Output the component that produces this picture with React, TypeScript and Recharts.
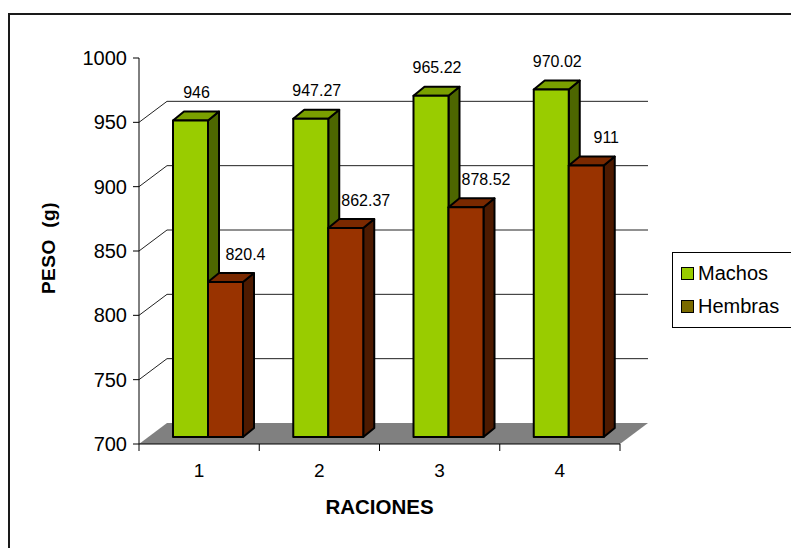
import React from "react";
import { BarChart, Bar, XAxis, YAxis, CartesianGrid, Legend, LabelList } from "recharts";

const RACIONES = ["1", "2", "3", "4"];
const MACHOS = [946, 947.27, 965.22, 970.02];
const HEMBRAS = [820.4, 862.37, 878.52, 911];
const PESO_TICKS = [700, 750, 800, 850, 900, 950, 1000];
const SERIES_ORDER = ["machos", "hembras"];

const data = RACIONES.map((racion, i) => ({
  racion,
  machos: MACHOS[i],
  hembras: HEMBRAS[i],
}));

const W = 791;
const H = 548;
const MARGIN = { top: 58, right: 171, bottom: 0, left: 0 };
const X_AXIS_H = 104;
const Y_AXIS_W = 139;
const PLOT_TOP = MARGIN.top;
const PLOT_BOTTOM = H - MARGIN.bottom - X_AXIS_H;
const PLOT_W = W - MARGIN.right - MARGIN.left - Y_AXIS_W;

// fake 3d: depth of the walls, and where the bars sit inside that depth
const WALL_DX = 28;
const WALL_DY = -21;
const BAR_DX = 9;
const BAR_DY = -7;
const DEPTH_DX = 11;
const DEPTH_DY = -9;

const FONT = '"Liberation Sans", Arial, sans-serif';

const GREEN = { front: "#99cc00", top: "#7aa000", side: "#4d6600" };
const BROWN = { front: "#993300", top: "#7a2900", side: "#4d1a00" };
const SWATCH: Record<string, string> = { machos: "#99cc00", hembras: "#7a6a00" };

const pts = (p: number[][]) => p.map((q) => q.join(",")).join(" ");

// back wall gridlines + side wall diagonals; the bottom line becomes the floor
function WallLine(props: any) {
  const { x1, y1, x2 } = props;
  if (Math.abs(y1 - PLOT_TOP) < 1) return <g key={props.key} />;
  if (Math.abs(y1 - PLOT_BOTTOM) < 1) {
    return (
      <polygon
        key={props.key}
        points={pts([
          [x1, y1],
          [x2, y1],
          [x2 + WALL_DX, y1 + WALL_DY],
          [x1 + WALL_DX, y1 + WALL_DY],
        ])}
        fill="#808080"
      />
    );
  }
  return (
    <g key={props.key} stroke="#222" strokeWidth={1}>
      <line x1={x1} y1={y1} x2={x1 + WALL_DX} y2={y1 + WALL_DY} />
      <line x1={x1 + WALL_DX} y1={y1 + WALL_DY} x2={x2 + WALL_DX} y2={y1 + WALL_DY} />
    </g>
  );
}

function Bar3D(props: any) {
  const { x, y, width, height, colors } = props;
  const fx = x + BAR_DX;
  const fy = y + BAR_DY;
  const bottom = y + height + BAR_DY;
  const r = fx + width;
  return (
    <g stroke="#000" strokeWidth={2} strokeLinejoin="round">
      <polygon
        points={pts([
          [r, fy],
          [r + DEPTH_DX, fy + DEPTH_DY],
          [r + DEPTH_DX, bottom + DEPTH_DY],
          [r, bottom],
        ])}
        fill={colors.side}
      />
      <polygon
        points={pts([
          [fx, fy],
          [r, fy],
          [r + DEPTH_DX, fy + DEPTH_DY],
          [fx + DEPTH_DX, fy + DEPTH_DY],
        ])}
        fill={colors.top}
      />
      <rect x={fx} y={fy} width={width} height={bottom - fy} fill={colors.front} />
    </g>
  );
}

const valueLabel = (shift: number) => (props: any) => {
  const { x, y, width, value } = props;
  return (
    <text
      x={x + BAR_DX + width / 2 + shift}
      y={y + BAR_DY - 28}
      textAnchor="middle"
      dominantBaseline="central"
      fontSize={16}
      fontFamily={FONT}
      fill="#000"
    >
      {value}
    </text>
  );
};

function YTick(props: any) {
  const { x, y, payload } = props;
  return (
    <text x={x - 4} y={y} textAnchor="end" dominantBaseline="central" fontSize={20} fontFamily={FONT} fill="#000">
      {payload.value}
    </text>
  );
}

// excel puts the category ticks on the band edges, not the centres
function XTick(props: any) {
  const { x, y, payload, index } = props;
  const half = payload.offset > 0 ? payload.offset : PLOT_W / RACIONES.length / 2;
  return (
    <g>
      <line x1={x + half} y1={PLOT_BOTTOM} x2={x + half} y2={PLOT_BOTTOM + 7} stroke="#000" />
      {index === 0 && <line x1={x - half} y1={PLOT_BOTTOM} x2={x - half} y2={PLOT_BOTTOM + 7} stroke="#000" />}
      <text x={x} y={y + 18} textAnchor="middle" dominantBaseline="central" fontSize={19} fontFamily={FONT} fill="#000">
        {payload.value}
      </text>
    </g>
  );
}

function LegendBox(props: any) {
  const items = [...(props.payload || [])].sort(
    (a: any, b: any) => SERIES_ORDER.indexOf(a.dataKey) - SERIES_ORDER.indexOf(b.dataKey)
  );
  return (
    <div
      style={{
        border: "1px solid #000",
        background: "#fff",
        padding: "4px 0 4px 8px",
        fontFamily: FONT,
        fontSize: 20,
        width: 140,
        boxSizing: "border-box",
      }}
    >
      {items.map((entry: any) => (
        <div key={entry.value} style={{ display: "flex", alignItems: "center", height: 33 }}>
          <span
            style={{
              display: "inline-block",
              width: 11,
              height: 11,
              border: "1.5px solid #000",
              background: SWATCH[entry.dataKey],
              marginRight: 4,
            }}
          />
          {entry.value}
        </div>
      ))}
    </div>
  );
}

export default function App() {
  return (
    <div style={{ position: "fixed", left: 0, top: 0, width: W, height: H, overflow: "hidden", background: "#fff" }}>
      <div
        style={{
          position: "absolute",
          left: 8,
          top: 13,
          width: 900,
          height: 700,
          border: "2px solid #1a1a1a",
        }}
      />
      <BarChart width={W} height={H} data={data} margin={MARGIN} barGap={0} style={{ position: "absolute", left: 0, top: 0 }}>
        <CartesianGrid vertical={false} horizontal={WallLine} />
        <XAxis
          dataKey="racion"
          height={X_AXIS_H}
          axisLine={{ stroke: "#000" }}
          tickLine={false}
          tick={<XTick />}
          label={{
            content: ({ viewBox }: any) => (
              <text
                x={viewBox.x + viewBox.width / 2}
                y={viewBox.y + 62}
                textAnchor="middle"
                dominantBaseline="central"
                fontSize={20.5}
                fontWeight="bold"
                fontFamily={FONT}
              >
                RACIONES
              </text>
            ),
          }}
        />
        <YAxis
          width={Y_AXIS_W}
          domain={[700, 1000]}
          ticks={PESO_TICKS}
          allowDataOverflow
          axisLine={{ stroke: "#000" }}
          tickLine={{ stroke: "#000" }}
          tick={<YTick />}
          label={{
            content: ({ viewBox }: any) => {
              const cx = 48;
              const cy = viewBox.y + viewBox.height / 2 - 3;
              return (
                <text
                  x={cx}
                  y={cy}
                  transform={`rotate(-90 ${cx} ${cy})`}
                  textAnchor="middle"
                  dominantBaseline="central"
                  fontSize={19}
                  fontWeight="bold"
                  letterSpacing={0.5}
                  fontFamily={FONT}
                  style={{ whiteSpace: "pre" }}
                >
                  {"PESO  (g)"}
                </text>
              );
            },
          }}
        />
        <Legend
          layout="vertical"
          align="center"
          verticalAlign="middle"
          content={<LegendBox />}
          wrapperStyle={{ left: 672, top: 252, width: 140 }}
        />
        <Bar
          dataKey="machos"
          name="Machos"
          fill={GREEN.front}
          barSize={35}
          isAnimationActive={false}
          shape={(p: any) => <Bar3D {...p} colors={GREEN} />}
        >
          <LabelList dataKey="machos" content={valueLabel(6)} />
        </Bar>
        <Bar
          dataKey="hembras"
          name="Hembras"
          fill={BROWN.front}
          barSize={35}
          isAnimationActive={false}
          shape={(p: any) => <Bar3D {...p} colors={BROWN} />}
        >
          <LabelList dataKey="hembras" content={valueLabel(20)} />
        </Bar>
      </BarChart>
    </div>
  );
}
